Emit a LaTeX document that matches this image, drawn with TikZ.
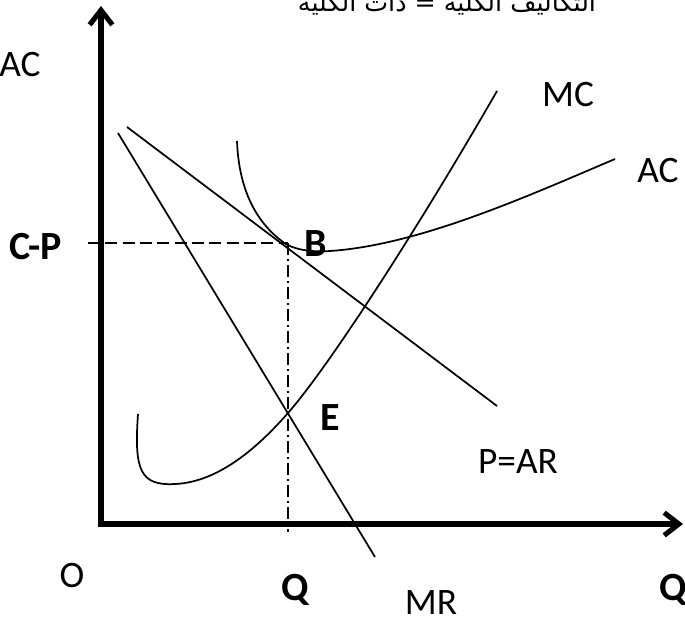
\documentclass[tikz,border=0pt]{standalone}
\usepackage{fontspec}
\setmainfont{Carlito}
\newfontfamily\arabicfont[Script=Arabic]{DejaVu Sans}
\TeXXeTstate=1
\usetikzlibrary{arrows.meta}
\begin{document}
\begin{tikzpicture}[x=0.75pt,y=-0.75pt,
  axis/.style={line width=3.8pt,-{Straight Barb[length=11pt,width=17pt]}},
  curve/.style={line width=1.3pt},
  lbl/.style={font=\fontsize{28}{30}\selectfont,inner sep=0pt},
  blbl/.style={font=\fontsize{30}{32}\selectfont\bfseries,inner sep=0pt},
  guide/.style={line width=1.1pt}]
\useasboundingbox (0,0) rectangle (685,622);
% axes
\coordinate (O) at (101,527);
\coordinate (ytip) at (101,6);
\coordinate (xtip) at (683,524);
\coordinate (Ox) at (99,524);
\draw[axis] (O) -- (ytip);
\draw[axis] (Ox) -- (xtip);
% points
\coordinate (Bp) at (288,243);
\coordinate (Ep) at (288,413);
\coordinate (cp) at (88,243);
\coordinate (qb) at (288,532);
% AR line
\coordinate (ar1) at (127,127);
\coordinate (ar2) at (497,406);
\draw[curve] (ar1) -- (ar2);
% MR line
\coordinate (mr1) at (118,133);
\coordinate (mr2) at (375,557);
\draw[curve] (mr1) -- (mr2);
% AC curve
\draw[curve] (237,141) .. controls (239,195) and (260,225) .. (283,242)
  .. controls (295,251) and (315,252) .. (330,251)
  .. controls (420,245) and (530,195) .. (615,159);
% MC curve
\draw[curve] (138,414) .. controls (134,470) and (140,486) .. (175,484)
  .. controls (220,482) and (260,445) .. (Ep)
  .. controls (330,365) and (420,225) .. (497,91);
% guides
\draw[guide,dash pattern=on 9pt off 4pt] (cp) -- (Bp);
\draw[guide,dash pattern=on 9pt off 3pt on 1.5pt off 3pt] (Bp) -- (qb);
% labels
\node[font=\arabicfont\fontsize{19}{21}\selectfont,anchor=base,inner sep=0pt] (title) at (447,11)
  {\beginR التكاليف الكلية = دات الكلية\endR};
\node[lbl] (acl) at (20,65) {AC};
\node[lbl] (mcl) at (568,95) {MC};
\node[lbl] (acr) at (658,171) {AC};
\node[blbl] (cpl) at (36,247) {C-P};
\node[blbl] (bl) at (316,244) {B};
\node[blbl] (el) at (330,418) {E};
\node[lbl] (arl) at (518,462) {P=AR};
\node[lbl] (ol) at (72,576) {O};
\node[blbl,anchor=base] (q1) at (295,600) {Q};
\node[lbl,anchor=base] (mrl) at (431,614) {MR};
\node[blbl,anchor=base] (q2) at (673,600) {Q};
\end{tikzpicture}
\end{document}
